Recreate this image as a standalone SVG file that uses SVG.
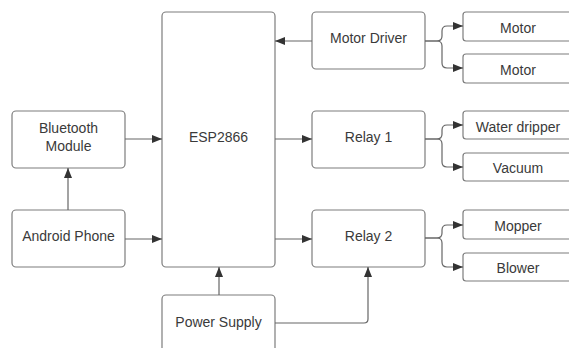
<svg xmlns="http://www.w3.org/2000/svg" width="569" height="348" viewBox="0 0 569 348">
<style>
.box{fill:#fff;stroke:#7d7d7d;stroke-width:1.2}
.lbl{font-family:"Liberation Sans",Arial,sans-serif;font-size:14px;fill:#3a3a3a;text-anchor:middle;dominant-baseline:central}
.c{fill:none;stroke:#666;stroke-width:1.2}
</style>
<defs>
<marker id="ah" markerWidth="10" markerHeight="8" refX="10" refY="4" orient="auto" markerUnits="userSpaceOnUse">
<path d="M0,0 L10,4 L0,8 Z" fill="#333"/>
</marker>
</defs>
<rect width="569" height="348" fill="#fff"/>
<g id="esp"><rect class="box" x="162" y="12" width="113" height="255" rx="4"/><text class="lbl" x="218.5" y="137">ESP2866</text></g>
<g id="bluetooth"><rect class="box" x="12" y="111" width="113" height="57" rx="4"/><text class="lbl" x="68.5" y="128">Bluetooth</text><text class="lbl" x="68.5" y="146">Module</text></g>
<g id="android"><rect class="box" x="12" y="210" width="113" height="57" rx="4"/><text class="lbl" x="68.5" y="236">Android Phone</text></g>
<g id="power"><rect class="box" x="162" y="295" width="113" height="70" rx="4"/><text class="lbl" x="218.5" y="322">Power Supply</text></g>
<g id="motordriver"><rect class="box" x="312" y="12" width="113" height="57" rx="4"/><text class="lbl" x="368.5" y="38">Motor Driver</text></g>
<g id="relay1"><rect class="box" x="312" y="111" width="113" height="57" rx="4"/><text class="lbl" x="368.5" y="137">Relay 1</text></g>
<g id="relay2"><rect class="box" x="312" y="210" width="113" height="57" rx="4"/><text class="lbl" x="368.5" y="236">Relay 2</text></g>
<g id="motor1"><rect class="box" x="463" y="12" width="115" height="29" rx="3"/><text class="lbl" x="518" y="27.5">Motor</text></g>
<g id="motor2"><rect class="box" x="463" y="54" width="115" height="29" rx="3"/><text class="lbl" x="518" y="70">Motor</text></g>
<g id="waterdripper"><rect class="box" x="463" y="111" width="115" height="28" rx="3"/><text class="lbl" x="518" y="126.5">Water dripper</text></g>
<g id="vacuum"><rect class="box" x="463" y="153" width="115" height="28" rx="3"/><text class="lbl" x="518" y="168">Vacuum</text></g>
<g id="mopper"><rect class="box" x="463" y="210" width="115" height="29" rx="3"/><text class="lbl" x="518" y="225.5">Mopper</text></g>
<g id="blower"><rect class="box" x="463" y="253" width="115" height="28" rx="3"/><text class="lbl" x="518" y="268">Blower</text></g>
<g id="connectors">
<path class="c" d="M312,41 H275" marker-end="url(#ah)"/>
<path class="c" d="M125,139 H162" marker-end="url(#ah)"/>
<path class="c" d="M125,239 H162" marker-end="url(#ah)"/>
<path class="c" d="M68,210 V168" marker-end="url(#ah)"/>
<path class="c" d="M275,139 H312" marker-end="url(#ah)"/>
<path class="c" d="M275,239 H312" marker-end="url(#ah)"/>
<path class="c" d="M219,295 V267" marker-end="url(#ah)"/>
<path class="c" d="M275,323 H364 Q368,323 368,319 V267" marker-end="url(#ah)"/>
<path class="c" d="M425,41 H437 Q442,41 442,36 V31 Q442,26 447,26 H463" marker-end="url(#ah)"/>
<path class="c" d="M425,41 H437 Q442,41 442,46 V63 Q442,68 447,68 H463" marker-end="url(#ah)"/>
<path class="c" d="M425,139 H437 Q442,139 442,134 V130 Q442,125 447,125 H463" marker-end="url(#ah)"/>
<path class="c" d="M425,139 H437 Q442,139 442,144 V162 Q442,167 447,167 H463" marker-end="url(#ah)"/>
<path class="c" d="M425,238 H437 Q442,238 442,233 V230 Q442,225 447,225 H463" marker-end="url(#ah)"/>
<path class="c" d="M425,238 H437 Q442,238 442,243 V262 Q442,267 447,267 H463" marker-end="url(#ah)"/>
</g>
</svg>
